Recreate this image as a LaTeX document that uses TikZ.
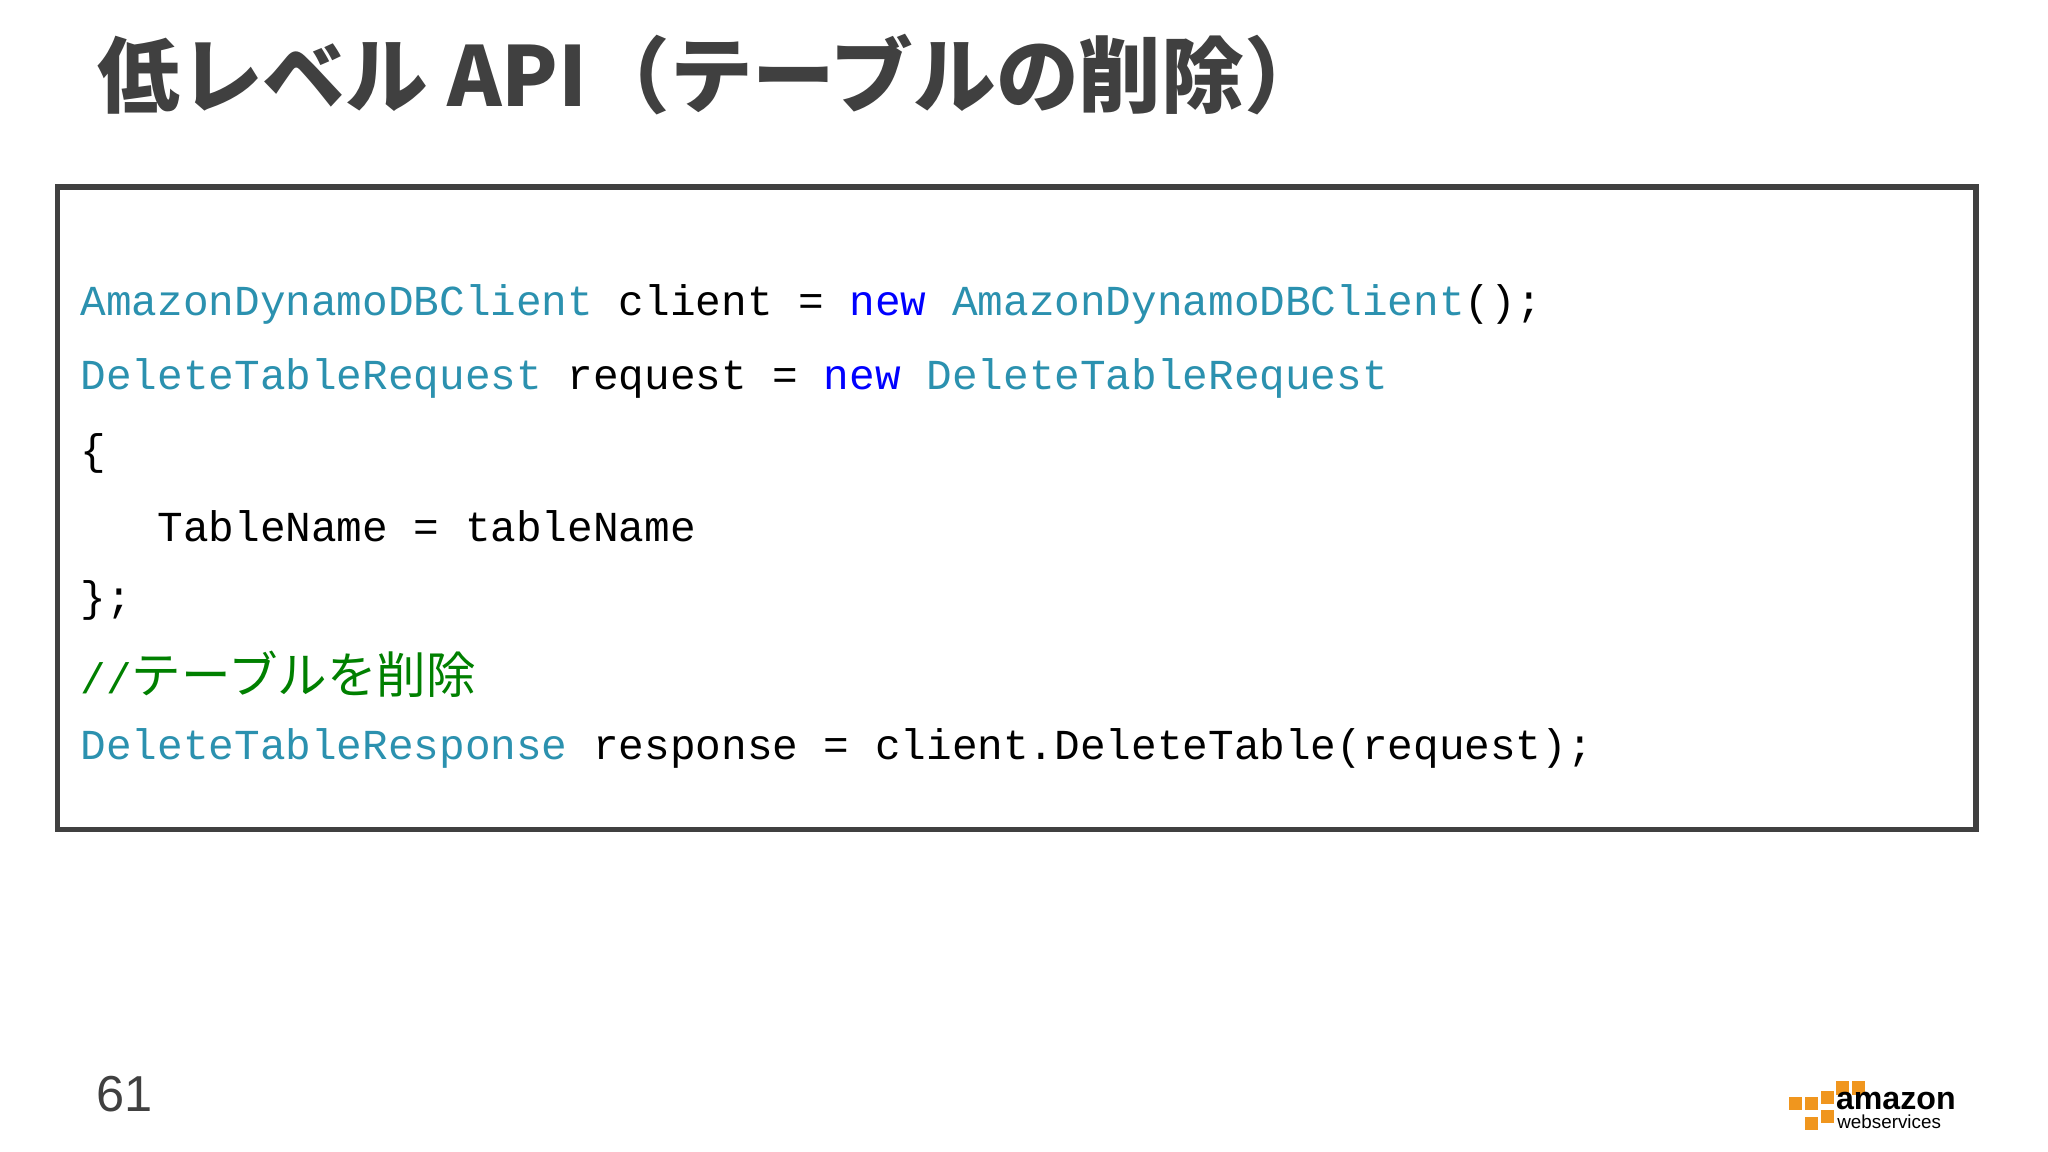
\documentclass[tikz,border=0pt]{standalone}
\usepackage{fontspec}
\setmainfont{Liberation Sans}
\newfontfamily\jpfont{Noto Sans CJK JP}
\newfontfamily\codefont{Liberation Mono}
\definecolor{typec}{RGB}{43,145,175}
\definecolor{kwc}{RGB}{0,0,255}
\definecolor{cmc}{RGB}{0,128,0}
\definecolor{titlec}{RGB}{64,64,64}
\definecolor{awsorange}{RGB}{240,150,30}
\tikzset{codeline/.style={anchor=west,inner sep=0,font=\codefont\fontsize{9.3}{11}\selectfont}}
\newcommand{\ty}[1]{\textcolor{typec}{#1}}
\newcommand{\kw}[1]{\textcolor{kwc}{#1}}
\begin{document}
\begin{tikzpicture}[x=0.01cm,y=-0.01cm]
\useasboundingbox (0,0) rectangle (1568,882);
\fill[white] (0,0) rectangle (1568,882);
\node[anchor=west,inner sep=0,text=titlec,font=\jpfont\bfseries\fontsize{18}{20}\selectfont] (title) at (74,57) {低レベル API（テーブルの削除）};
\draw[line width=1.2pt,draw=titlec] (44,143) rectangle (1513,635);
\node[codeline] (l1) at (61,233) {\ty{AmazonDynamoDBClient} client = \kw{new} \ty{AmazonDynamoDBClient}();};
\node[codeline] (l2) at (61,290) {\ty{DeleteTableRequest} request = \kw{new} \ty{DeleteTableRequest}};
\node[codeline] (l3) at (61,347) {\{};
\node[codeline] (l4) at (61,403) {\ \ \ TableName = tableName};
\node[codeline] (l5) at (61,460) {\};};
\node[codeline] (l6) at (61,516) {\textcolor{cmc}{//{\jpfont\fontsize{10.8}{11}\selectfont テーブルを削除}}};
\node[codeline] (l7) at (61,573) {\ty{DeleteTableResponse} response = client.DeleteTable(request);};
\node[anchor=west,inner sep=0,text=titlec,font=\fontsize{11}{13}\selectfont] (pg) at (73,838) {61};
% AWS logo
\foreach \x/\y in {1370/840,1382/840,1394/835,1406/828,1418/828,1382/855,1394/850}{
  \fill[awsorange] (\x,\y) rectangle ++(10,10);}
\node[anchor=west,inner sep=0,font=\bfseries\fontsize{7}{8}\selectfont] (amz) at (1405,843) {amazon};
\node[anchor=west,inner sep=0,font=\fontsize{4.1}{5}\selectfont] (ws) at (1406,859) {webservices};
\end{tikzpicture}
\end{document}
